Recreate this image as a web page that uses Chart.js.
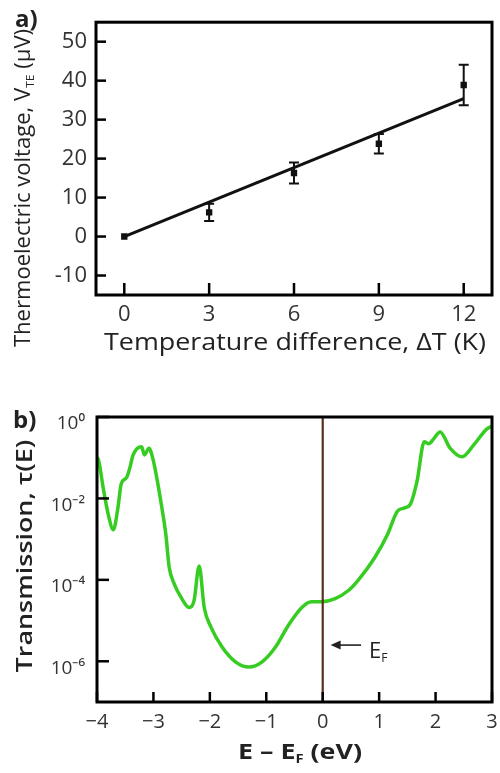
<!DOCTYPE html>
<html><head><meta charset="utf-8">
<script src="https://cdn.jsdelivr.net/npm/chart.js@4/dist/chart.umd.min.js"></script>
<style>
body{margin:0;background:#fff;width:500px;height:773px;position:relative;overflow:hidden;font-family:'Open Sans',sans-serif;color:#222}
canvas{position:absolute;left:0}
#ca{top:0}
#cb{top:380px}
.lbl{position:absolute;white-space:nowrap;line-height:1}
sub{font-size:55%;vertical-align:-0.35em;line-height:0}
</style></head><body>
<canvas id="ca" width="500" height="380"></canvas>
<canvas id="cb" width="500" height="393"></canvas>

<div class="lbl" style="left:15px;top:6px;font-size:24px;font-weight:700;color:#222">a)</div>
<div class="lbl" style="left:22px;top:188px;font-size:21px;color:#222;transform:translate(-50%,-50%) rotate(-90deg) scaleX(1.05)">Thermoelectric voltage, V<sub>TE</sub> (μV)</div>
<div class="lbl" style="left:295px;top:329px;font-size:24px;color:#222;transform:translate(-50%,0) scaleX(1.12)">Temperature difference, ΔT (K)</div>

<div class="lbl" style="left:13px;top:407px;font-size:24px;font-weight:700;color:#222">b)</div>
<div class="lbl" style="left:24px;top:556px;font-size:21px;font-weight:600;color:#222;transform:translate(-50%,-50%) rotate(-90deg) scaleX(1.28)">Transmission, τ(E)</div>
<div class="lbl" style="left:300px;top:739px;font-size:22px;font-weight:700;color:#222;transform:translate(-50%,0) scaleX(1.22)">E – E<sub>F</sub> (eV)</div>
<div class="lbl" style="left:369px;top:638px;font-size:22px;color:#222">E<sub>F</sub></div>

<script>
// ---------- Panel a data ----------
const deltaT = [0, 3, 6, 9, 12];
const voltage = [0, 6.2, 16.3, 23.8, 38.9];
const voltageErr = [0, 2.2, 2.7, 2.5, 5.2];
const fitDeltaT = [0, 12];
const fitVoltage = [0, 35.4];
const xTicksA = [0, 3, 6, 9, 12];
const yTicksA = [-10, 0, 10, 20, 30, 40, 50];

// ---------- Panel b data ----------
const energy = [-4.00, -3.98, -3.89, -3.80, -3.71, -3.63, -3.57, -3.48, -3.42, -3.36, -3.21, -3.16, -3.08, -3.01, -2.95, -2.86, -2.78, -2.72, -2.63, -2.51, -2.37, -2.28, -2.19, -2.10, -1.98, -1.78, -1.54, -1.31, -1.08, -0.84, -0.61, -0.37, -0.20, -0.02, 0.21, 0.45, 0.62, 0.92, 1.15, 1.32, 1.44, 1.55, 1.67, 1.80, 1.88, 1.97, 2.08, 2.26, 2.47, 2.68, 2.91, 3.00];
const transmission = [1.0e-1, 9.5e-2, 1.8e-2, 4.0e-3, 1.7e-3, 5.8e-3, 2.3e-2, 3.2e-2, 5.5e-2, 1.17e-1, 1.86e-1, 1.17e-1, 1.7e-1, 9.5e-2, 3.8e-2, 7.1e-3, 1.3e-3, 2.0e-4, 7.9e-5, 3.7e-5, 2.1e-5, 3.1e-5, 2.2e-4, 2.1e-5, 6.9e-6, 2.2e-6, 9.5e-7, 7.2e-7, 9.5e-7, 2.2e-6, 7.6e-6, 2.1e-5, 2.9e-5, 2.9e-5, 3.4e-5, 5.4e-5, 9.5e-5, 3.5e-4, 1.32e-3, 4.8e-3, 5.8e-3, 7.1e-3, 2.6e-2, 2.45e-1, 2.2e-1, 2.95e-1, 4.3e-1, 1.7e-1, 1.05e-1, 2.1e-1, 5.1e-1, 6.0e-1];
const fermiLevel = 0;
const xTicksB = [-4, -3, -2, -1, 0, 1, 2, 3];
const yTicksB = [1, 1e-2, 1e-4, 1e-6];
const yTickLabelsB = ['10⁰', '10⁻²', '10⁻⁴', '10⁻⁶'];
const arrowE = [0.68, 0.14];      // arrow tail -> head (eV)
const arrowT = 2.5e-6;            // arrow height (transmission)

const FONT = "'Open Sans', sans-serif";

const frameTicks = {
  id: 'frameTicks',
  afterDatasetsDraw(chart, args, o) {
    const {ctx, chartArea: a, scales} = chart;
    ctx.save();
    ctx.strokeStyle = '#000';
    ctx.lineWidth = o.tickWidth;
    scales.x.ticks.forEach(t => {
      const px = scales.x.getPixelForValue(t.value);
      ctx.beginPath(); ctx.moveTo(px, a.bottom); ctx.lineTo(px, a.bottom - o.xLen); ctx.stroke();
    });
    scales.y.ticks.forEach(t => {
      const py = scales.y.getPixelForValue(t.value);
      ctx.beginPath(); ctx.moveTo(a.left, py); ctx.lineTo(a.left + o.yLen, py); ctx.stroke();
    });
    ctx.lineWidth = o.frameWidth;
    ctx.strokeRect(a.left, a.top, a.right - a.left, a.bottom - a.top);
    ctx.restore();
  }
};

const errorBars = {
  id: 'errorBars',
  afterDatasetsDraw(chart) {
    const {ctx, scales: {x, y}} = chart;
    ctx.save();
    ctx.strokeStyle = '#111';
    ctx.lineWidth = 2;
    deltaT.forEach((t, i) => {
      if (!voltageErr[i]) return;
      const px = x.getPixelForValue(t);
      const top = y.getPixelForValue(voltage[i] + voltageErr[i]);
      const bot = y.getPixelForValue(voltage[i] - voltageErr[i]);
      ctx.beginPath();
      ctx.moveTo(px, top); ctx.lineTo(px, bot);
      ctx.moveTo(px - 5, top); ctx.lineTo(px + 5, top);
      ctx.moveTo(px - 5, bot); ctx.lineTo(px + 5, bot);
      ctx.stroke();
    });
    ctx.restore();
  }
};

const arrowPlugin = {
  id: 'arrowPlugin',
  afterDatasetsDraw(chart) {
    const {ctx, scales: {x, y}} = chart;
    const x0 = x.getPixelForValue(arrowE[0]);
    const x1 = x.getPixelForValue(arrowE[1]);
    const py = y.getPixelForValue(arrowT);
    ctx.save();
    ctx.strokeStyle = '#222'; ctx.fillStyle = '#222'; ctx.lineWidth = 1.6;
    ctx.beginPath(); ctx.moveTo(x0, py); ctx.lineTo(x1 + 8, py); ctx.stroke();
    ctx.beginPath(); ctx.moveTo(x1, py); ctx.lineTo(x1 + 10, py - 4.5); ctx.lineTo(x1 + 10, py + 4.5); ctx.closePath(); ctx.fill();
    ctx.restore();
  }
};

const noPad = s => { s.paddingLeft = 0; s.paddingRight = 0; };

// ---------- Chart a ----------
new Chart(document.getElementById('ca'), {
  type: 'scatter',
  data: {
    datasets: [
      {
        data: fitDeltaT.map((t, i) => ({x: t, y: fitVoltage[i]})),
        showLine: true, borderColor: '#111', borderWidth: 3, pointRadius: 0
      },
      {
        data: deltaT.map((t, i) => ({x: t, y: voltage[i]})),
        pointStyle: 'rect', pointRadius: 4.5, backgroundColor: '#111', borderColor: '#111', borderWidth: 0
      }
    ]
  },
  options: {
    responsive: false, animation: false, devicePixelRatio: 1,
    layout: {padding: {left: 0, right: 8, top: 11, bottom: 0}},
    plugins: {legend: {display: false}, tooltip: {enabled: false},
      frameTicks: {tickWidth: 2.5, xLen: 12, yLen: 10, frameWidth: 3}},
    scales: {
      x: {
        type: 'linear', min: -1, max: 13,
        afterBuildTicks: s => { s.ticks = xTicksA.map(v => ({value: v})); },
        afterFit: s => { s.height = 85; noPad(s); },
        grid: {display: false, drawTicks: false}, border: {display: false},
        ticks: {color: '#333', font: {family: FONT, size: 22}, padding: 7, maxRotation: 0}
      },
      y: {
        type: 'linear', min: -15, max: 55,
        afterBuildTicks: s => { s.ticks = yTicksA.map(v => ({value: v})); },
        afterFit: s => { s.width = 96; },
        grid: {display: false, drawTicks: false}, border: {display: false},
        ticks: {color: '#333', font: {family: FONT, size: 22}, padding: 9}
      }
    }
  },
  plugins: [errorBars, frameTicks]
});

// ---------- Chart b ----------
new Chart(document.getElementById('cb'), {
  type: 'scatter',
  data: {
    datasets: [
      {
        data: [{x: fermiLevel, y: 1e-7}, {x: fermiLevel, y: 1}],
        showLine: true, borderColor: '#5a2e1e', borderWidth: 2.2, pointRadius: 0
      },
      {
        data: energy.map((e, i) => ({x: e, y: transmission[i]})),
        showLine: true, borderColor: '#36cc22', borderWidth: 3.5, pointRadius: 0,
        cubicInterpolationMode: 'monotone'
      }
    ]
  },
  options: {
    responsive: false, animation: false, devicePixelRatio: 1,
    layout: {padding: {left: 0, right: 8, top: 37, bottom: 0}},
    plugins: {legend: {display: false}, tooltip: {enabled: false},
      frameTicks: {tickWidth: 2.5, xLen: 10, yLen: 12, frameWidth: 3}},
    scales: {
      x: {
        type: 'linear', min: -4, max: 3,
        afterBuildTicks: s => { s.ticks = xTicksB.map(v => ({value: v})); },
        afterFit: s => { s.height = 71; noPad(s); },
        grid: {display: false, drawTicks: false}, border: {display: false},
        ticks: {color: '#333', font: {family: FONT, size: 20}, padding: 8, maxRotation: 0,
          callback: v => (v < 0 ? '−' + Math.abs(v) : String(v))}
      },
      y: {
        type: 'logarithmic', min: 1e-7, max: 1,
        afterBuildTicks: s => { s.ticks = yTicksB.map(v => ({value: v})); },
        afterFit: s => { s.width = 97; },
        grid: {display: false, drawTicks: false}, border: {display: false},
        ticks: {color: '#333', font: {family: FONT, size: 19}, padding: 12, labelOffset: 7,
          callback: v => { const i = yTicksB.indexOf(v); return i >= 0 ? yTickLabelsB[i] : ''; }}
      }
    }
  },
  plugins: [arrowPlugin, frameTicks]
});
</script>
</body></html>
